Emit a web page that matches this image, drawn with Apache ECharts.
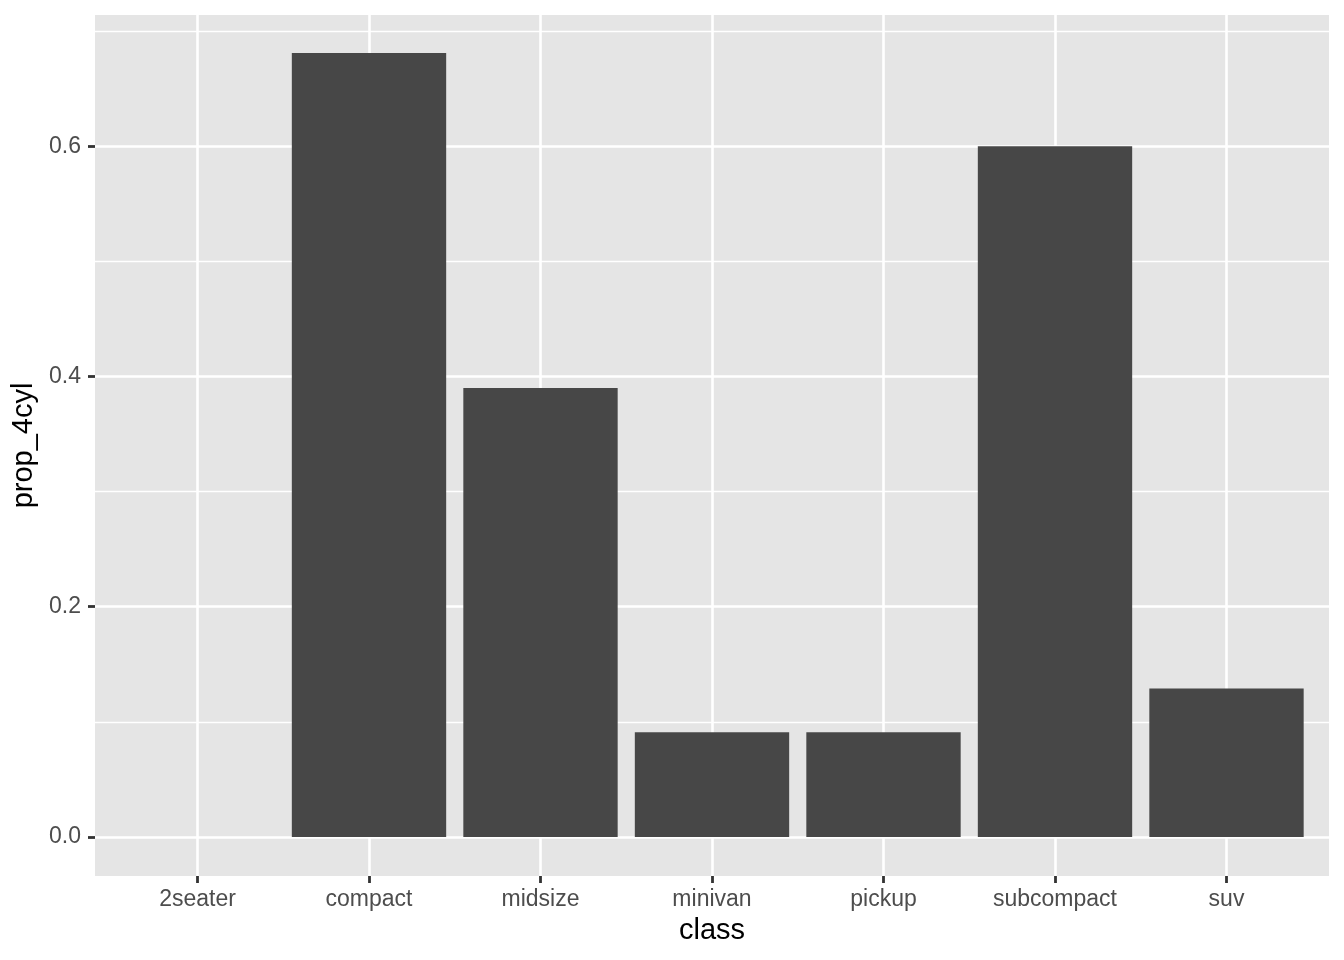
<!DOCTYPE html>
<html>
<head>
<meta charset="utf-8">
<title>prop_4cyl by class</title>
<script src="https://cdn.jsdelivr.net/npm/echarts@6/dist/echarts.min.js"></script>
<style>
  html, body { margin: 0; padding: 0; background: #fff; }
  #chart { width: 1344px; height: 960px; }
</style>
</head>
<body>
<div id="chart"></div>
<script>
// 数据
const categories = ['2seater', 'compact', 'midsize', 'minivan', 'pickup', 'subcompact', 'suv'];
const prop4cyl = [0, 0.681, 0.390, 0.0909, 0.0909, 0.600, 0.129];
const yTicks = [0, 0.2, 0.4, 0.6];
const yMinorTicks = [0.1, 0.3, 0.5, 0.7];

const yMin = -0.0339;
const yMax = 0.714;
const font = 'Liberation Sans, Arial, Helvetica, sans-serif';

let chart = echarts.init(document.getElementById('chart'));

chart.setOption({
  animation: false,
  textStyle: { fontFamily: font },
  grid: [
    // 整个面板（灰色背景 + 横向网格线）
    { left: 95, top: 15, width: 1234, height: 861, show: true, backgroundColor: '#E5E5E5', borderWidth: 0 },
    // 分类区域：首尾类目落在边上，两侧各留 0.6 个类目宽
    { left: 197.5, top: 15, width: 1029, height: 861 }
  ],
  xAxis: [
    { gridIndex: 0, type: 'value', min: 0, max: 1, show: false },
    {
      gridIndex: 1,
      type: 'category',
      data: categories,
      boundaryGap: false,
      name: 'class',
      nameLocation: 'middle',
      nameGap: 40,
      nameTextStyle: { color: '#000', fontSize: 29, fontFamily: font },
      axisLine: { show: false, onZero: false },
      axisTick: { show: true, interval: 0, length: 7, lineStyle: { color: '#333333', width: 2.8 } },
      axisLabel: { interval: 0, color: '#4D4D4D', fontSize: 23, margin: 12, fontFamily: font },
      splitLine: { show: true, interval: 0, lineStyle: { color: '#FFFFFF', width: 2.6 } }
    }
  ],
  yAxis: [
    {
      gridIndex: 0,
      type: 'value',
      min: yMin,
      max: yMax,
      name: 'prop_4cyl',
      nameLocation: 'middle',
      nameRotate: 90,
      nameGap: 50,
      nameTextStyle: { color: '#000', fontSize: 29, fontFamily: font },
      axisLine: { show: false },
      axisTick: { show: true, customValues: yTicks, length: 7, lineStyle: { color: '#333333', width: 2.8 } },
      axisLabel: {
        customValues: yTicks,
        color: '#4D4D4D',
        fontSize: 23,
        margin: 14,
        fontFamily: font,
        formatter: v => v.toFixed(1)
      },
      splitLine: { show: true, lineStyle: { color: '#FFFFFF', width: 2.6 } }
    },
    {
      // 次网格线
      gridIndex: 0,
      type: 'value',
      min: yMin,
      max: yMax,
      position: 'left',
      axisLine: { show: false },
      axisTick: { show: false, customValues: yMinorTicks },
      axisLabel: { show: false, customValues: yMinorTicks },
      splitLine: { show: true, lineStyle: { color: '#FFFFFF', width: 1.3 } }
    },
    { gridIndex: 1, type: 'value', min: yMin, max: yMax, show: false }
  ],
  series: [{
    type: 'bar',
    xAxisIndex: 1,
    yAxisIndex: 2,
    data: prop4cyl,
    barWidth: '90%',
    clip: false,
    itemStyle: { color: '#474747' }
  }]
});
</script>
</body>
</html>
